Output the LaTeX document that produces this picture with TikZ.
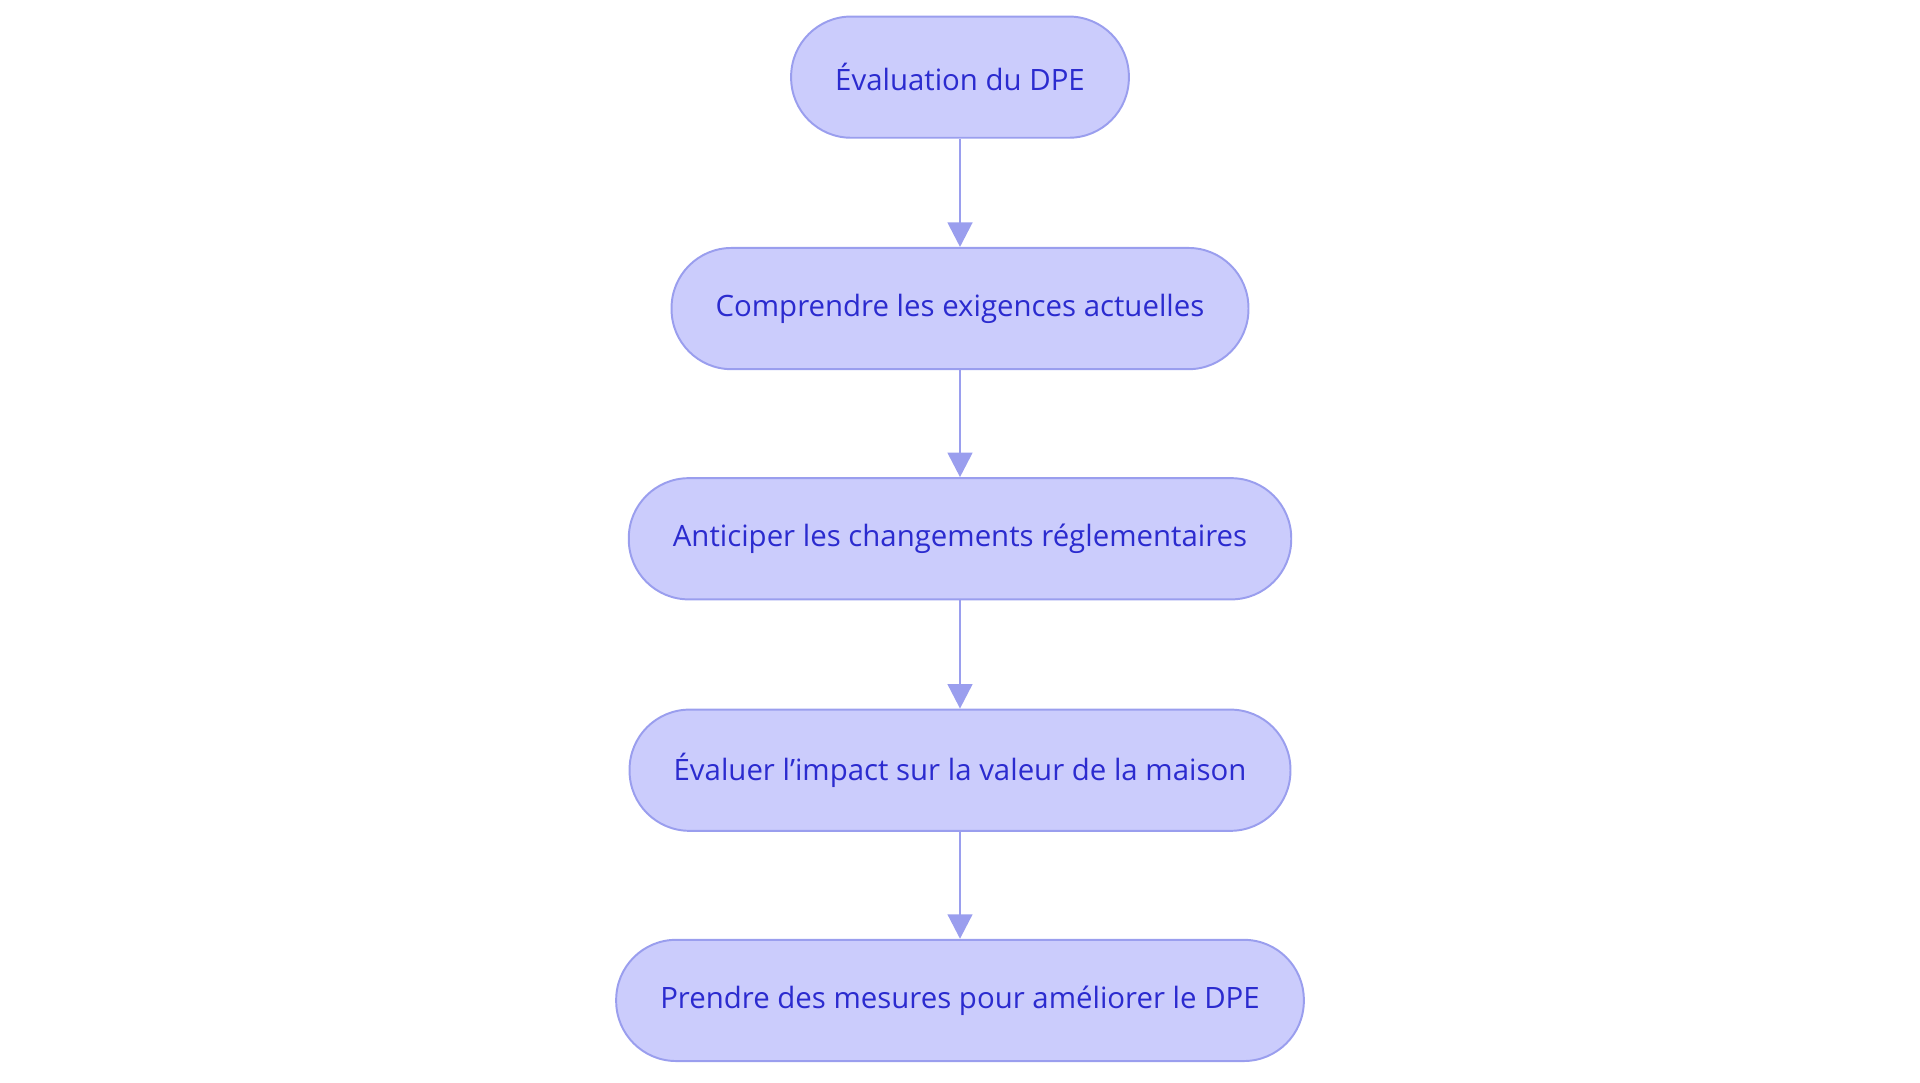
\documentclass[tikz,border=0pt]{standalone}
\usepackage{fontspec}
\setmainfont{Open Sans}
\usetikzlibrary{arrows.meta}
\definecolor{stepfill}{HTML}{CBCCFC}
\definecolor{stepline}{HTML}{9A9EEE}
\definecolor{steptext}{HTML}{2B2BCF}
\begin{document}
\begin{tikzpicture}[x=1pt,y=1pt]
    \tikzstyle{stage}=[rectangle,rounded corners=24.5pt,draw=stepline,fill=stepfill,line width=0.8pt,
        text=steptext,font=\fontsize{12}{14}\selectfont,minimum height=49.5pt,inner xsep=18pt]
    \tikzstyle{flow}=[line width=1.2pt,stepline,-{Triangle[length=10pt,width=10pt]}]
    \useasboundingbox (0,0) rectangle (784,-442);
    \node (eval)    at (392,-31.5)  [stage] {Évaluation du DPE};
    \node (exig)    at (392,-126)   [stage] {Comprendre les exigences actuelles};
    \node (anticip) at (392,-220)   [stage] {Anticiper les changements réglementaires};
    \node (impact)  at (392,-314.5) [stage] {Évaluer l'impact sur la valeur de la maison};
    \node (mesures) at (392,-408.5) [stage] {Prendre des mesures pour améliorer le DPE};
    \draw [flow] (eval)    -- (exig);
    \draw [flow] (exig)    -- (anticip);
    \draw [flow] (anticip) -- (impact);
    \draw [flow] (impact)  -- (mesures);
\end{tikzpicture}
\end{document}
